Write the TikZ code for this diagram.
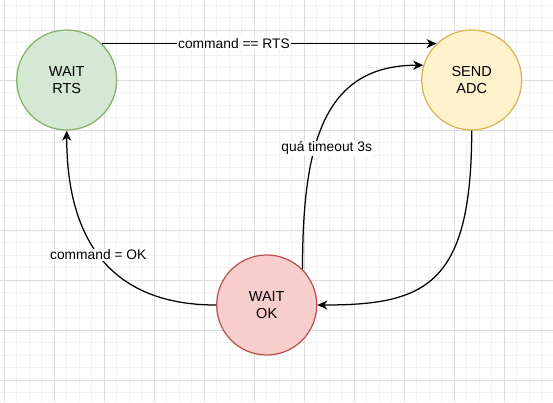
\documentclass[tikz,border=0pt]{standalone}
\usepackage{fontspec}
\setmainfont{Liberation Sans}
\usetikzlibrary{arrows.meta}
\definecolor{gminor}{HTML}{F0F0F0}
\definecolor{gmajor}{HTML}{DCDCDC}
\definecolor{gfill}{HTML}{D5E8D4}
\definecolor{gline}{HTML}{82B366}
\definecolor{yfill}{HTML}{FFF2CC}
\definecolor{yline}{HTML}{D6B656}
\definecolor{rfill}{HTML}{F8CECC}
\definecolor{rline}{HTML}{B85450}
\tikzset{
  state/.style={circle, minimum size=100pt, inner sep=0pt, line width=1.25pt, align=center,
    font=\fontsize{14.5}{17.5}\selectfont},
  edge/.style={line width=1.25pt, -{Stealth[length=10pt,width=9pt,inset=3pt]}},
  lbl/.style={fill=white, inner sep=1pt, font=\fontsize{13.8}{16}\selectfont}
}
\begin{document}
\begin{tikzpicture}[x=1pt,y=-1pt]
\useasboundingbox (0,0) rectangle (553,402);
\fill[white] (0,0) rectangle (553,402);
% grid
\foreach \k in {0,...,44} {
  \draw[gminor, line width=1pt] ({4.3+12.5*\k},0) -- ({4.3+12.5*\k},402);
}
\foreach \k in {0,...,32} {
  \draw[gminor, line width=1pt] (0,{5.3+12.5*\k}) -- (553,{5.3+12.5*\k});
}
\foreach \k in {0,...,11} {
  \draw[gmajor, line width=1pt] ({4.3+50*\k},0) -- ({4.3+50*\k},402);
}
\foreach \k in {0,...,7} {
  \draw[gmajor, line width=1pt] (0,{30.3+50*\k}) -- (553,{30.3+50*\k});
}
% states
\node[state, fill=gfill, draw=gline] (wr) at (66.7,80) {WAIT\\RTS};
\node[state, fill=yfill, draw=yline] (sa) at (471.7,80) {SEND\\ADC};
\node[state, fill=rfill, draw=rline] (wo) at (266.7,305) {WAIT\\OK};
% edges
\draw[edge] (wr.46) -- (sa.134);
\draw[edge] (wo.45) .. controls +(0,-129) and +(-98,0) .. (sa.163);
\draw[edge] (sa.270) .. controls +(0,155) and +(108,0) .. (wo.0);
\draw[edge] (wo.180) .. controls +(-97,0) and +(0,119) .. (wr.270);
% labels
\node[lbl] (l1) at (234,44) {command == RTS};
\node[lbl] (l2) at (326.7,148.3) {quá timeout 3s};
\node[lbl] (l3) at (98.3,255) {command = OK};
\end{tikzpicture}
\end{document}
